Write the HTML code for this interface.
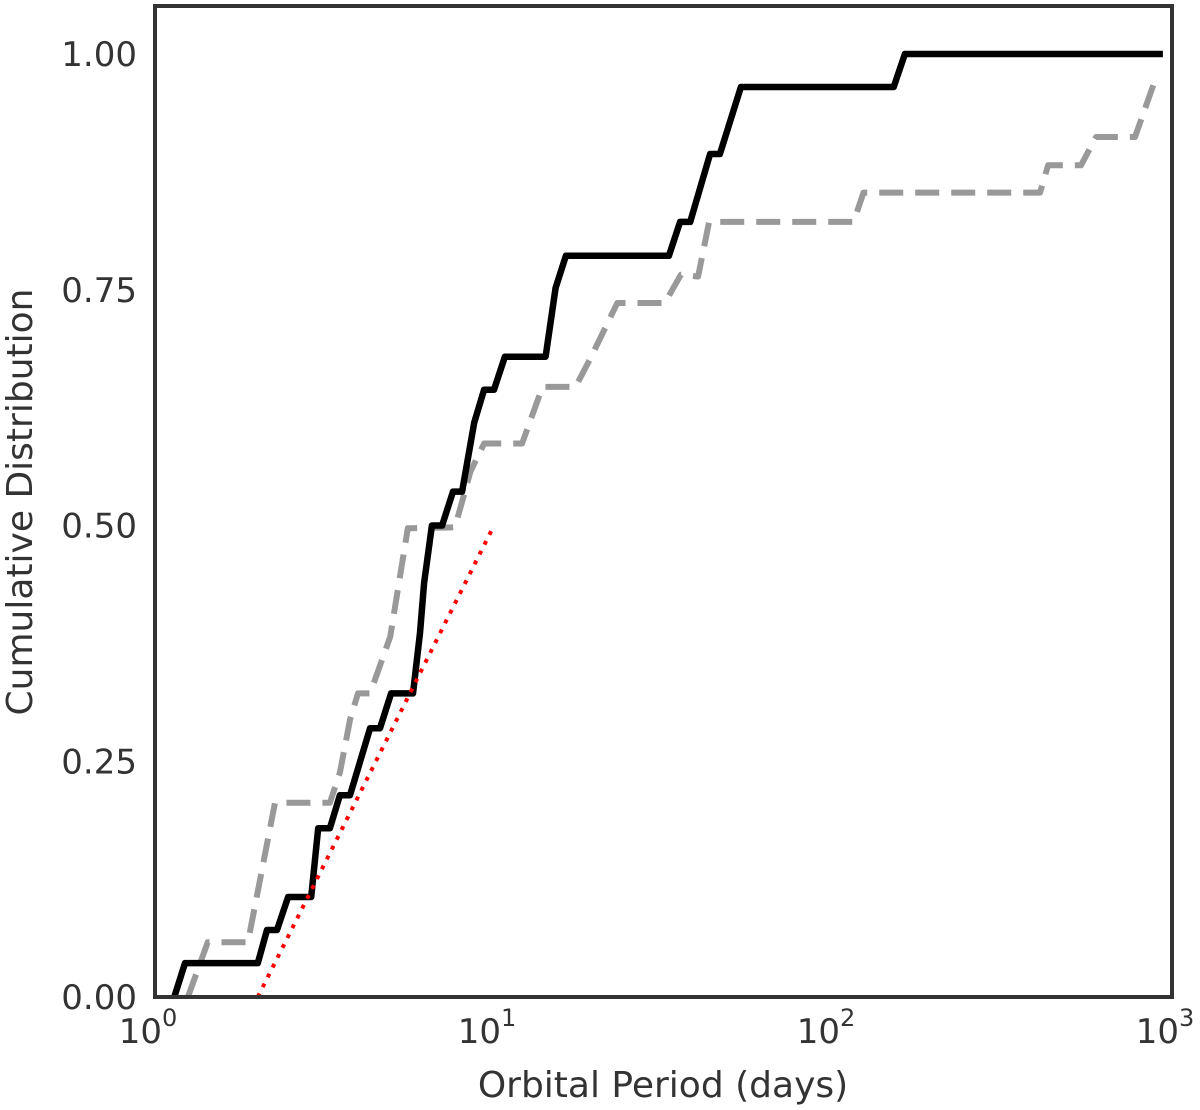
<!DOCTYPE html>
<html><head><meta charset="utf-8"><style>
body{margin:0;background:#fff}
svg{display:block;font-family:"DejaVu Sans","Liberation Sans",sans-serif}
</style></head><body>
<svg id="chart" width="1200" height="1110" viewBox="0 0 1200 1110">
<g id="marks"></g>
<rect x="155" y="6" width="1017" height="991" fill="none" stroke="#333" stroke-width="4"/>
<g id="axes" fill="#333" font-size="34"></g>
<text x="663" y="1097" text-anchor="middle" font-size="36" fill="#333">Orbital Period (days)</text>
<text transform="translate(32,502) rotate(-90)" text-anchor="middle" font-size="36" fill="#333">Cumulative Distribution</text>
</svg>
<script>
const blackPeriods=[1.14,1.226,2.01,2.14,2.29,2.47,2.89,3.03,3.28,3.51,3.76,4.31,4.61,4.97,5.77,6.05,6.22,6.56,7.03,7.57,8.05,8.74,9.35,10.0,10.77,14.2,15.2,16.3,32.8,35.4,37.9,43.4,46.4,53.5,151,163,940];
const blackCdf=[0,0.036,0.036,0.071,0.071,0.106,0.106,0.179,0.179,0.214,0.214,0.285,0.285,0.322,0.322,0.386,0.439,0.5,0.5,0.536,0.536,0.609,0.644,0.644,0.679,0.679,0.752,0.786,0.786,0.822,0.822,0.894,0.894,0.965,0.965,1.0,1.0];
const grayPeriods=[1.25,1.43,1.88,2.26,3.28,3.51,3.76,3.97,4.31,4.94,5.57,7.67,8.52,9.35,12.1,13.9,17.4,19.3,23.1,31.9,35.6,40.0,43.1,115,123,408,431,539,597,778,891];
const grayCdf=[0,0.058,0.058,0.206,0.206,0.238,0.294,0.322,0.322,0.382,0.497,0.498,0.557,0.587,0.587,0.647,0.647,0.678,0.736,0.736,0.766,0.764,0.822,0.822,0.853,0.853,0.882,0.882,0.912,0.912,0.972];
const fitPeriods=[2.01,10.0];
const fitCdf=[0,0.5];
const xTickExps=[0,1,2,3];
const yTicks=[0,0.25,0.5,0.75,1.0];
const yTickLabels=["0.00","0.25","0.50","0.75","1.00"];

const X0=155,X1=1172,Y0=997,Y1=54;
function xs(p){return X0+(Math.log10(p)-0)/3*(X1-X0);}
function ys(v){return Y0-v*(Y0-Y1);}
const NS="http://www.w3.org/2000/svg";
const marks=document.getElementById('marks');
const axes=document.getElementById('axes');
function line(px,py,stroke,w,dash,name){
  const el=document.createElementNS(NS,'polyline');
  el.setAttribute('points',px.map((p,i)=>xs(p).toFixed(1)+','+ys(py[i]).toFixed(1)).join(' '));
  el.setAttribute('fill','none');el.setAttribute('stroke',stroke);el.setAttribute('stroke-width',w);
  el.setAttribute('stroke-linejoin','round');
  if(dash)el.setAttribute('stroke-dasharray',dash);
  
  
  marks.appendChild(el);
}
line(grayPeriods,grayCdf,'#999',6,'24,12','gray-dashed-series');
line(blackPeriods,blackCdf,'#000',6.5,null,'black-solid-series');
line(fitPeriods,fitCdf,'#ff0000',4,'4,7','red-dotted-fit');
yTicks.forEach((v,i)=>{
  const t=document.createElementNS(NS,'text');
  t.setAttribute('x',137);t.setAttribute('y',ys(v)+12);t.setAttribute('text-anchor','end');
  t.textContent=yTickLabels[i];
  
  
  axes.appendChild(t);
});
xTickExps.forEach(e=>{
  const t=document.createElementNS(NS,'text');
  t.setAttribute('x',xs(Math.pow(10,e))-7);t.setAttribute('y',1043);t.setAttribute('text-anchor','middle');
  t.textContent='10';
  const s=document.createElementNS(NS,'tspan');
  s.setAttribute('dy',-17);s.setAttribute('font-size',24);s.textContent=String(e);
  t.appendChild(s);
  
  
  axes.appendChild(t);
});
</script>
</body></html>
